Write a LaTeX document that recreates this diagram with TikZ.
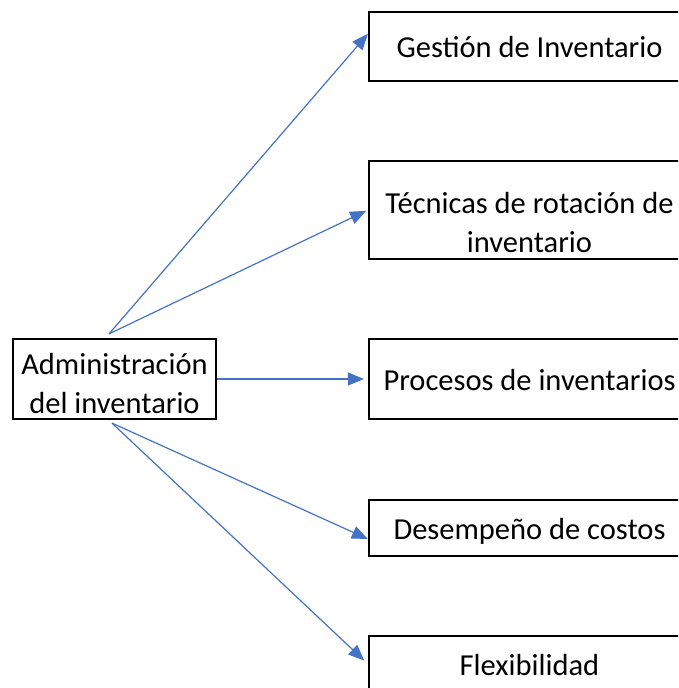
\documentclass[tikz,border=0pt]{standalone}
\usepackage{fontspec}
\setmainfont{Carlito}
\usetikzlibrary{arrows.meta}
\definecolor{azul}{HTML}{4472C4}
\tikzset{
    caja/.style={draw, line width=2.2pt, align=center, inner sep=0pt,
                 font=\fontsize{30.5}{39}\selectfont},
    derecha/.style={caja, minimum width=321pt, text height=26pt, text depth=4pt},
    flecha/.style={azul, line width=1.2pt, -{Triangle[length=16pt,width=13pt]}}
}
\begin{document}
\begin{tikzpicture}[x=1pt,y=1pt]
        % Área visible
        \useasboundingbox (0,0) rectangle (678,-688);
        \clip (0,0) rectangle (678,-688);

        % Caja principal
        \node[caja, minimum width=203pt, minimum height=80pt, text height=68pt, text depth=0pt] (adm) at (114.5,-379) {Administración\\del inventario};

        % Cajas de la derecha
        \node[derecha, minimum height=69pt] (gestion)   at (529.5,-46.5) {Gestión de Inventario};
        \node[derecha, minimum height=98pt, text height=84pt, text depth=0pt] (tecnicas) at (529.5,-210) {Técnicas de rotación de\\inventario};
        \node[derecha, minimum height=80pt] (procesos)  at (529.5,-379)  {Procesos de inventarios};
        \node[derecha, minimum height=56pt] (desempeno) at (529.5,-528)  {Desempeño de costos};
        \node[derecha, minimum height=56pt] (flex)      at (529.5,-664)  {Flexibilidad};

        % Puntos de salida
        \coordinate (salidaArriba) at ([shift={(-5.5,4)}]adm.north);
        \coordinate (salidaAbajo)  at ([shift={(-2.5,-3)}]adm.south);

        % Flechas
        \draw[flecha] (salidaArriba) -- ([yshift=-23pt]gestion.north west);
        \draw[flecha, shorten >=2pt] (salidaArriba) -- (tecnicas.west);
        \draw[flecha, shorten >=4pt] (adm.east) -- (procesos.west);
        \draw[flecha] (salidaAbajo) -- ([yshift=-11pt]desempeno.west);
        \draw[flecha, shorten >=5pt] (salidaAbajo) -- (flex.west);
    \end{tikzpicture}
\end{document}
